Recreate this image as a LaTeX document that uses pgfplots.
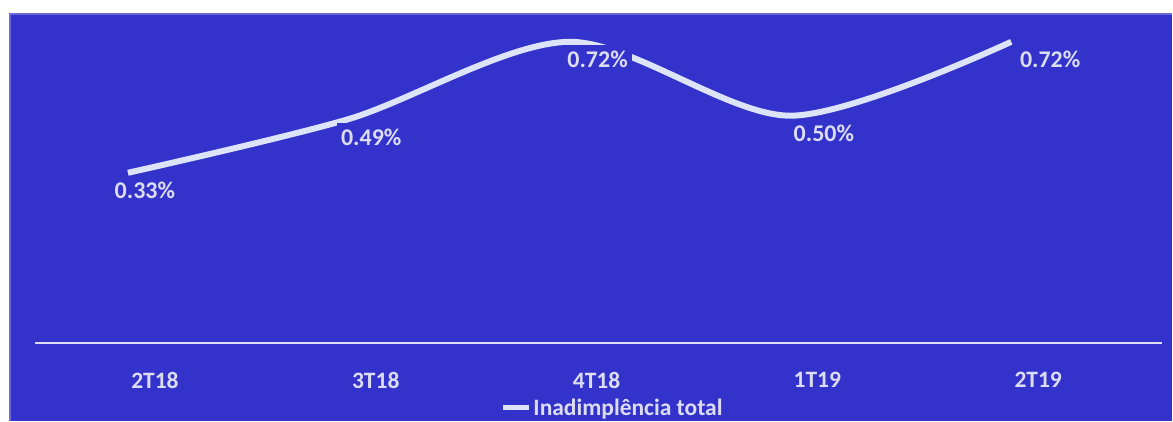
\documentclass[border=0pt]{standalone}
\usepackage{pgfplots}
\pgfplotsset{compat=1.18}
\usepackage{fontspec}
\setmainfont{Carlito}
\definecolor{bg}{HTML}{3333CC}
\definecolor{bgedge}{HTML}{6A6ADC}
\definecolor{txt}{HTML}{DCDCF4}
\definecolor{ln}{HTML}{DDE3F8}
\begin{document}
\begin{tikzpicture}
% page and blue panel
\fill[white] (0,0) rectangle (1173pt,421pt);
\fill[bg] (9pt,0) rectangle (1173pt,408pt);
\draw[bgedge, line width=2pt] (10pt,0) -- (10pt,407pt) -- (1173pt,407pt);
\begin{axis}[
    at={(35pt,78pt)}, anchor=south west,
    scale only axis,
    width=1128pt, height=325pt,
    xmin=-0.421, xmax=4.683,
    ymin=-0.176, ymax=0.791,
    axis x line*=bottom,
    axis y line=none,
    x axis line style={txt, line width=1.6pt},
    xtick={0,1,2,3,4},
    xticklabels={2T18,3T18,4T18,1T19,2T19},
    major tick length=0pt,
    xticklabel style={font=\fontsize{23.5}{26}\selectfont\bfseries, text=txt,
        anchor=north, xshift=27pt, yshift=-26pt},
    ytick=\empty,
    clip=false,
    legend style={at={(0.5124,-0.2)}, anchor=center, draw=none, fill=none,
        font=\fontsize{23.5}{26}\selectfont\bfseries, text=txt,
        inner sep=0pt, cells={anchor=west}},
    legend image code/.code={\draw[ln, line width=5pt] (0pt,0pt) -- (26pt,0pt);},
]
\addplot[
    ln, line width=6pt, smooth, tension=0.5,
    point meta=explicit symbolic,
    visualization depends on={x \as \xv},
    nodes near coords,
    every node near coord/.append style={anchor=center,
        xshift={(17+5.5*\xv)*1pt}, yshift=-18pt,
        fill=bg, inner xsep=4pt, inner ysep=6pt, text=txt,
        font=\fontsize{24}{26}\selectfont\bfseries},
    ]
    coordinates {
    (0,0.33)[0.33\%] (1,0.49)[0.49\%] (2,0.72)[0.72\%] (3,0.50)[0.50\%] (4,0.72)[0.72\%]
    };
    \addlegendentry{Inadimplência total}
\end{axis}
\end{tikzpicture}
\end{document}
